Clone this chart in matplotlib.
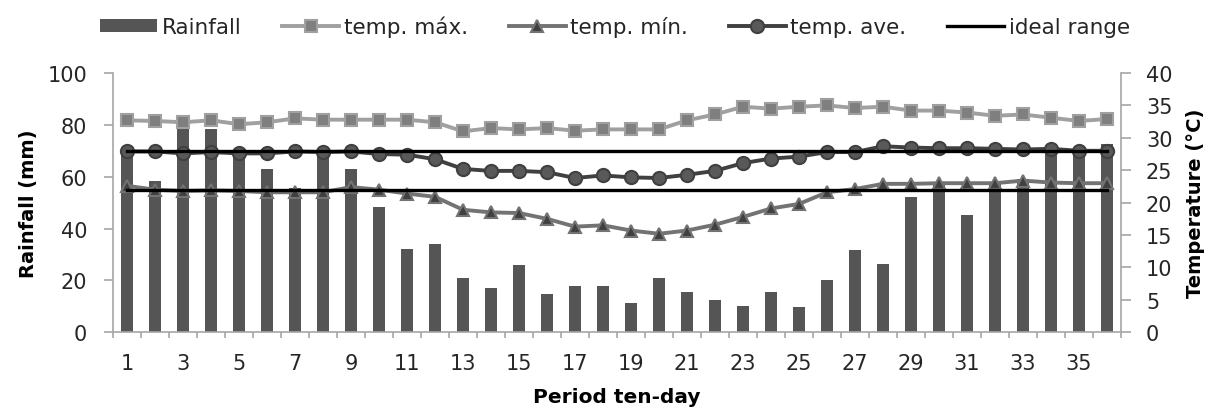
import matplotlib
matplotlib.use("Agg")
import matplotlib.pyplot as plt
import numpy as np
from matplotlib.lines import Line2D
from matplotlib.patches import Patch

plt.rcParams['font.family'] = ['DejaVu Sans']

periods = list(range(1, 37))
rainfall = [70, 58.5, 79, 78.5, 70, 63, 55.5, 70, 63, 48.5, 32, 34, 21, 17, 26,
            14.7, 17.8, 17.8, 11.2, 20.8, 15.4, 12.5, 10.3, 15.4, 9.9, 20.1, 31.8,
            26.5, 52.1, 58, 45.4, 58, 59, 71, 70, 72.5]
temp_max = [32.7, 32.6, 32.4, 32.7, 32.1, 32.4, 33.0, 32.8, 32.8, 32.8, 32.8, 32.4,
            31.0, 31.5, 31.3, 31.5, 31.1, 31.3, 31.3, 31.3, 32.7, 33.6, 34.8, 34.5,
            34.8, 35.0, 34.6, 34.8, 34.2, 34.2, 33.9, 33.4, 33.6, 33.1, 32.6, 32.9]
temp_min = [22.6, 22.0, 21.8, 21.9, 21.8, 21.6, 21.6, 21.6, 22.4, 22.0, 21.4, 20.9,
            18.9, 18.5, 18.4, 17.5, 16.3, 16.5, 15.7, 15.2, 15.7, 16.6, 17.8, 19.1,
            19.8, 21.6, 22.1, 22.9, 22.9, 23.0, 23.0, 23.0, 23.4, 23.1, 23.0, 23.0]
temp_ave = [27.9, 27.9, 27.6, 27.8, 27.6, 27.6, 27.9, 27.8, 27.9, 27.5, 27.4, 26.7,
            25.2, 24.9, 24.9, 24.7, 23.8, 24.2, 23.9, 23.8, 24.3, 24.9, 26.1, 26.8,
            27.1, 27.8, 27.8, 28.7, 28.5, 28.4, 28.4, 28.3, 28.2, 28.3, 28.0, 28.0]
ideal_low = 22
ideal_high = 28
xtick_labels = [str(i) for i in range(1, 37, 2)]

fig = plt.figure(figsize=(12.16, 4.10), dpi=100)
ax = fig.add_axes([113/1216, 1-333.3/410, 1008/1216, 259.3/410])
ax2 = ax.twinx()

spine_c = '#A6A6A6'
text_c = '#262626'

ax.bar(periods, rainfall, width=0.42, color='#555555', zorder=2)
ax.set_ylim(0, 100)
ax.set_yticks(np.arange(0, 101, 20))
ax.set_xlim(0.5, 36.5)
ax.set_xticks(list(range(1, 37, 2)))
ax.set_xticklabels(xtick_labels)
ax.set_xticks(np.arange(0.5, 37, 1), minor=True)

ax2.plot(periods, temp_max, color='#A0A0A0', lw=2.8, marker='s', ms=9,
         mfc='#7F7F7F', mec='#A0A0A0', mew=1.5, zorder=3)
ax2.plot(periods, temp_min, color='#737373', lw=2.8, marker='^', ms=8,
         mfc='#404040', mec='#737373', mew=1.5, zorder=3)
ax2.plot(periods, temp_ave, color='#404040', lw=2.8, marker='o', ms=9.5,
         mfc='#595959', mec='#404040', mew=1.5, zorder=4)
ax2.plot([periods[0], periods[-1]], [ideal_high, ideal_high], color='black', lw=2.4, zorder=5)
ax2.plot([periods[0], periods[-1]], [ideal_low, ideal_low], color='black', lw=2.4, zorder=5)
ax2.set_ylim(0, 40)
ax2.set_yticks(np.arange(0, 41, 5))

for a in (ax, ax2):
    a.spines['top'].set_visible(False)
    for s in ('left', 'right', 'bottom'):
        a.spines[s].set_color(spine_c)
        a.spines[s].set_linewidth(1.2)
ax.spines['right'].set_visible(False)
ax2.spines['left'].set_visible(False)
ax2.spines['bottom'].set_visible(False)

ax.tick_params(axis='y', length=6.5, width=1.2, color=spine_c, pad=12,
               labelsize=15, labelcolor=text_c)
ax.tick_params(axis='x', which='major', length=0, pad=15, labelsize=15, labelcolor=text_c)
ax.tick_params(axis='x', which='minor', length=4, width=1.2, color=spine_c)
ax2.tick_params(axis='y', length=7, width=1.2, color=spine_c, pad=11,
                labelsize=15, labelcolor=text_c)

ax.set_ylabel('Rainfall (mm)', fontsize=14, fontweight='bold', color='black', labelpad=7)
ax2.set_ylabel('Temperature (°C)', fontsize=14, fontweight='bold', color='black', labelpad=10)
ax.set_xlabel('Period ten-day', fontsize=14.5, fontweight='bold', color='black')
ax.xaxis.set_label_coords(0.5, -0.21)

handles = [
    Patch(facecolor='#555555', edgecolor='none'),
    Line2D([], [], color='#A0A0A0', lw=2.8, marker='s', ms=9, mfc='#7F7F7F', mec='#A0A0A0', mew=1.5),
    Line2D([], [], color='#737373', lw=2.8, marker='^', ms=8, mfc='#404040', mec='#737373', mew=1.5),
    Line2D([], [], color='#404040', lw=2.8, marker='o', ms=9.5, mfc='#595959', mec='#404040', mew=1.5),
    Line2D([], [], color='black', lw=2.4),
]
labels = ['Rainfall', 'temp. máx.', 'temp. mín.', 'temp. ave.', 'ideal range']
leg = fig.legend(handles, labels, loc='center', bbox_to_anchor=(615/1216, 1-27/410),
                 ncol=5, frameon=False, fontsize=15.5, handlelength=2.65,
                 handletextpad=0.2, columnspacing=1.9, handleheight=0.55,
                 borderpad=0, borderaxespad=0)
for t in leg.get_texts():
    t.set_color(text_c)

fig.savefig('out.png', dpi=100)
